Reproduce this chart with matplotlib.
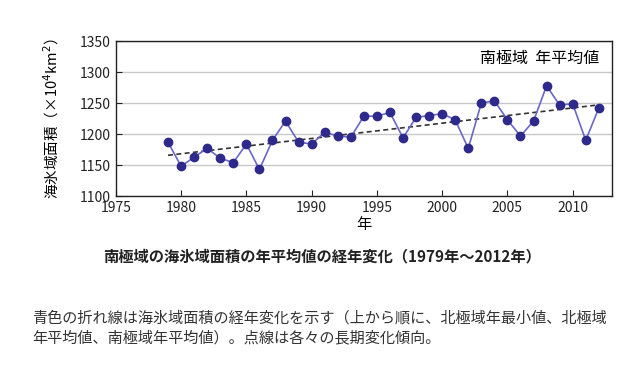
import numpy as np
import matplotlib
matplotlib.use("Agg")
import matplotlib.pyplot as plt

plt.rcParams['font.family'] = ['Noto Sans CJK JP', 'DejaVu Sans']

years = np.arange(1979, 2013)
area = [1187, 1148, 1163, 1177, 1161, 1154, 1184, 1143, 1190, 1221,
        1187, 1184, 1203, 1197, 1195, 1229, 1229, 1235, 1194, 1227,
        1230, 1233, 1223, 1177, 1250, 1254, 1223, 1197, 1221, 1278,
        1247, 1249, 1190, 1242]
x_ticks = [1975, 1980, 1985, 1990, 1995, 2000, 2005, 2010]
y_ticks = [1100, 1150, 1200, 1250, 1300, 1350]

fig = plt.figure(figsize=(6.4, 3.89), dpi=100)
ax = fig.add_axes([0.181, 0.496, 0.775, 0.398])

# long-term trend (least squares)
coef = np.polyfit(years, area, 1)
ax.plot(years, np.polyval(coef, years), ls=(0, (3, 2)), color='#333333', lw=1.2, zorder=2)
ax.plot(years, area, color='#6a67c8', lw=1.2, marker='o', ms=6,
        mfc='#2e2a8c', mec='#2e2a8c', zorder=3)

ax.set_xlim(1975, 2013)
ax.set_ylim(1100, 1350)
ax.set_xticks(x_ticks)
ax.set_yticks(y_ticks)
ax.yaxis.grid(True, color='#c8c8c8', lw=1)
ax.set_axisbelow(True)
ax.tick_params(direction='in', length=4, labelsize=10, colors='#222222')
for s in ax.spines.values():
    s.set_color('#222222')
    s.set_linewidth(1)

ax.set_xlabel('年', fontsize=11, labelpad=1)
ax.set_ylabel('海氷域面積（×10$^4$km$^2$）', fontsize=10.5, labelpad=14)
ax.text(0.975, 0.89, '南極域  年平均値', transform=ax.transAxes,
        ha='right', va='center', fontsize=11.5)

fig.text(0.503, 0.34, '南極域の海氷域面積の年平均値の経年変化（1979年～2012年）',
         ha='center', va='center', fontsize=11, fontweight='bold', color='#222222')
fig.text(0.05, 0.183, '青色の折れ線は海氷域面積の経年変化を示す（上から順に、北極域年最小値、北極域',
         ha='left', va='center', fontsize=10.9, color='#333333')
fig.text(0.05, 0.131, '年平均値、南極域年平均値）。点線は各々の長期変化傾向。',
         ha='left', va='center', fontsize=10.9, color='#333333')

fig.savefig('out.png', dpi=100)
